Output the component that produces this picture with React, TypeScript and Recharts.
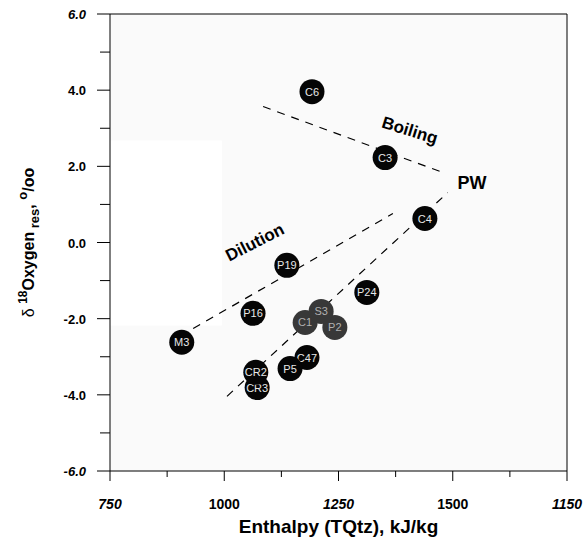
import {
  ScatterChart,
  Scatter,
  XAxis,
  YAxis,
  CartesianGrid,
  ReferenceLine,
  ReferenceArea,
  ReferenceDot,
} from "recharts";

// samples (black markers)
const sampleIds = ["C6", "C3", "C4", "P19", "P24", "P16", "M3", "C47", "P5", "CR3", "CR2"];
const sampleEnthalpy = [1192, 1352, 1439, 1137, 1312, 1063, 907, 1181, 1144, 1072, 1069];
const sampleDelta = [3.96, 2.23, 0.63, -0.6, -1.31, -1.86, -2.62, -3.02, -3.31, -3.81, -3.41];

// grey cluster
const clusterIds = ["C1", "P2", "S3"];
const clusterEnthalpy = [1177, 1242, 1212];
const clusterDelta = [-2.1, -2.23, -1.81];

// trend lines [x1, y1, x2, y2]
const boilingLine = [1085, 3.57, 1478, 1.84];
const dilutionLine = [932, -2.26, 1369, 0.76];
const mixingLine = [1006, -4.04, 1489, 1.31];

const xTicks = [750, 875, 1000, 1125, 1250, 1375, 1500, 1625, 1750];
const xMajor = [750, 1000, 1250, 1500, 1750];
const xTickLabels = ["750", "1000", "1250", "1500", "1150"];
const xItalic = ["750", "1250", "1150"];

const yTicks = [-6, -5, -4, -3, -2, -1, 0, 1, 2, 3, 4, 5, 6];
const yTickLabels = ["-6.0", "", "-4.0", "", "-2.0", "", "0.0", "", "2.0", "", "4.0", "", "6.0"];
const yItalic = ["6.0", "-6.0"];

const FONT = "'Liberation Sans', Arial, sans-serif";

const samples = sampleIds.map((id, i) => ({ id, x: sampleEnthalpy[i], y: sampleDelta[i] }));
const cluster = clusterIds.map((id, i) => ({ id, x: clusterEnthalpy[i], y: clusterDelta[i] }));

const seg = (l: number[]) => [
  { x: l[0], y: l[1] },
  { x: l[2], y: l[3] },
];

const marker = (fill: string, textFill: string) => (p: any) => (
  <g>
    <circle cx={p.cx} cy={p.cy} r={12.5} fill={fill} />
    <text
      x={p.cx}
      y={p.cy + 4}
      textAnchor="middle"
      fontFamily={FONT}
      fontSize={11}
      fill={textFill}
    >
      {p.payload.id}
    </text>
  </g>
);

const XTick = (p: any) => {
  const v = p.payload.value;
  const i = xMajor.indexOf(v);
  const major = i >= 0;
  const label = major ? xTickLabels[i] : "";
  return (
    <g>
      <line x1={p.x} x2={p.x} y1={p.y} y2={p.y + (major ? 10 : 6)} stroke="#000" />
      {label && (
        <text
          x={p.x}
          y={p.y + 38}
          textAnchor="middle"
          fontFamily={FONT}
          fontWeight="bold"
          fontStyle={xItalic.includes(label) ? "italic" : "normal"}
          fontSize={14}
          fill="#000"
        >
          {label}
        </text>
      )}
    </g>
  );
};

const YTick = (p: any) => {
  const v = p.payload.value;
  const label = yTickLabels[yTicks.indexOf(v)];
  return (
    <g>
      <line x1={p.x - (label ? 13 : 10)} x2={p.x} y1={p.y} y2={p.y} stroke="#000" />
      {label && (
        <text
          x={p.x - 24}
          y={p.y + 5}
          textAnchor="end"
          fontFamily={FONT}
          fontWeight="bold"
          fontStyle={yItalic.includes(label) ? "italic" : "normal"}
          fontSize={13}
          fill="#000"
        >
          {label}
        </text>
      )}
    </g>
  );
};

const YLabel = (p: any) => {
  const vb = p.viewBox;
  const cx = vb.x + 34;
  const cy = vb.y + vb.height / 2;
  return (
    <text
      x={cx}
      y={cy}
      transform={`rotate(-90, ${cx}, ${cy})`}
      textAnchor="middle"
      fontFamily={FONT}
      fontWeight="bold"
      fontSize={16}
      fill="#000"
    >
      <tspan fontWeight="normal">δ </tspan>
      <tspan dy={-7} fontSize={12}>18</tspan>
      <tspan dy={7}>Oxygen</tspan>
      <tspan dy={5} fontSize={13}> res</tspan>
      <tspan dy={-5}>, </tspan>
      <tspan dy={-7} fontSize={13}>o</tspan>
      <tspan dy={7}>/oo</tspan>
    </text>
  );
};

const XLabel = (p: any) => {
  const vb = p.viewBox;
  return (
    <text
      x={vb.x + vb.width / 2}
      y={vb.y + 62}
      textAnchor="middle"
      fontFamily={FONT}
      fontWeight="bold"
      fontSize={19}
      fill="#000"
    >
      Enthalpy (TQtz), kJ/kg
    </text>
  );
};

const annotation = (text: string, angle: number, size: number) => (p: any) => (
  <text
    x={p.cx}
    y={p.cy}
    transform={`rotate(${angle}, ${p.cx}, ${p.cy})`}
    textAnchor="middle"
    dominantBaseline="central"
    fontFamily={FONT}
    fontWeight="bold"
    fontSize={size}
    fill="#000"
  >
    {text}
  </text>
);

export default function App() {
  return (
    <div style={{ position: "absolute", left: 0, top: 0, background: "#fff" }}>
      <ScatterChart
        width={587}
        height={539}
        margin={{ top: 14, right: 20, bottom: 0, left: 0 }}
      >
        <CartesianGrid horizontal={false} vertical={false} fill="#fafafa" />
        <ReferenceArea
          x1={750}
          x2={995}
          y1={-2.18}
          y2={2.68}
          fill="#ffffff"
          fillOpacity={1}
          stroke="none"
        />
        <XAxis
          type="number"
          dataKey="x"
          domain={[750, 1750]}
          ticks={xTicks}
          interval={0}
          tickSize={0}
          tickMargin={0}
          tick={<XTick />}
          axisLine={{ stroke: "#000" }}
          height={68}
          label={{ content: <XLabel /> }}
        />
        <YAxis
          type="number"
          dataKey="y"
          domain={[-6, 6]}
          ticks={yTicks}
          interval={0}
          tickSize={0}
          tickMargin={0}
          tick={<YTick />}
          axisLine={{ stroke: "#000" }}
          width={110}
          label={{ content: <YLabel /> }}
        />
        <ReferenceLine y={6} stroke="#000" ifOverflow="visible" />
        <ReferenceLine x={1750} stroke="#000" ifOverflow="visible" />
        <ReferenceLine segment={seg(boilingLine)} stroke="#000" strokeWidth={1.2} strokeDasharray="8 7" />
        <ReferenceLine segment={seg(dilutionLine)} stroke="#000" strokeWidth={1.2} strokeDasharray="8 7" />
        <ReferenceLine segment={seg(mixingLine)} stroke="#000" strokeWidth={1.2} strokeDasharray="8 7" />
        <ReferenceDot x={1406} y={2.94} r={0} shape={annotation("Boiling", 17, 17)} />
        <ReferenceDot x={1067} y={0.0} r={0} shape={annotation("Dilution", -27, 17)} />
        <ReferenceDot x={1542} y={1.55} r={0} shape={annotation("PW", 0, 18)} />
        <Scatter data={samples} shape={marker("#050505", "#e8e8e8")} isAnimationActive={false} />
        <Scatter data={cluster} shape={marker("#383838", "#b0b0b0")} isAnimationActive={false} />
      </ScatterChart>
    </div>
  );
}
